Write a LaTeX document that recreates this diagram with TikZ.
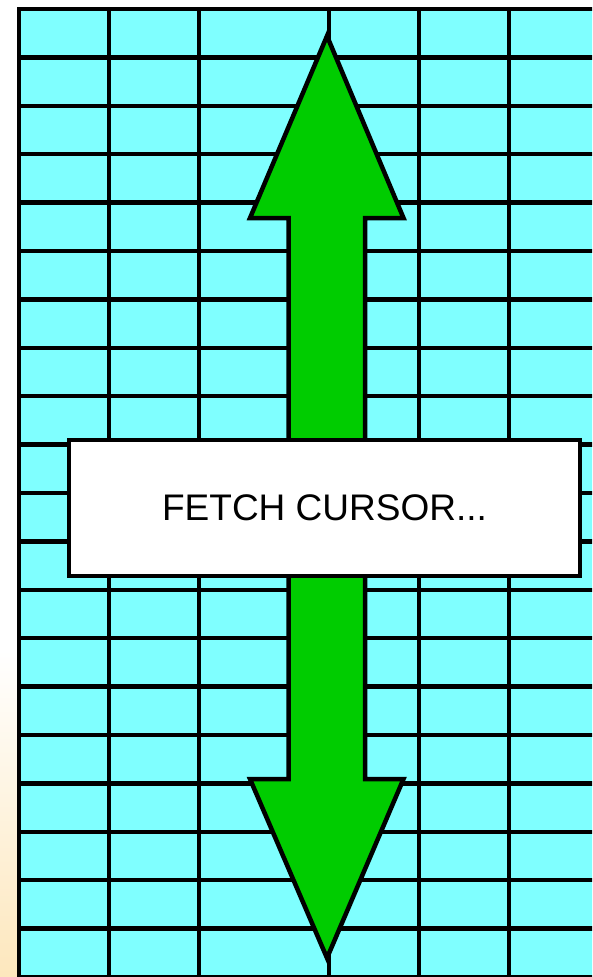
\documentclass[tikz,border=0pt]{standalone}
\usepackage{fontspec}
\setmainfont{Liberation Sans}
\usepackage{xcolor}
\usetikzlibrary{
    arrows.meta,
    positioning
}
\definecolor{cellcyan}{HTML}{7FFFFF}
\definecolor{arrowgreen}{HTML}{00CC00}
\definecolor{creamback}{HTML}{FDE7BD}

\begin{document}
\begin{tikzpicture}[
    x=1pt, y=-1pt,
    gridline/.style={line width=4.5pt, black},
    bigarrow/.style={fill=arrowgreen, draw=black, line width=4.5pt, line join=miter},
    cursorbox/.style={draw=black, line width=4.5pt, fill=white,
        minimum width=511pt, minimum height=136pt,
        font=\fontsize{37}{44}\selectfont}
]

\useasboundingbox (0,0) rectangle (592,977);
\clip (0,0) rectangle (592,977);

% slide background
\fill[white] (0,0) rectangle (592,977);
\shade[top color=white, bottom color=creamback] (0,650) rectangle (19,977);

% table of rows
\fill[cellcyan] (19,9) rectangle (599,990);
\foreach \i in {0,...,20}
    \draw[gridline] (17,{9+48.4*\i}) -- (601,{9+48.4*\i});
\foreach \x in {19,109,199,329,419,509,599}
    \draw[gridline] (\x,7) -- (\x,990);

% scrolling arrow
\coordinate (tiptop) at (327,36);
\coordinate (tipbottom) at (327,958);
\draw[bigarrow] (tiptop) -- (250,218) -- (288.5,218) -- (288.5,779)
    -- (250,779) -- (tipbottom) -- (403.5,779) -- (365,779)
    -- (365,218) -- (403.5,218) -- cycle;

\node[cursorbox] (fetch) at (324.5,508) {FETCH CURSOR...};

\end{tikzpicture}
\end{document}
